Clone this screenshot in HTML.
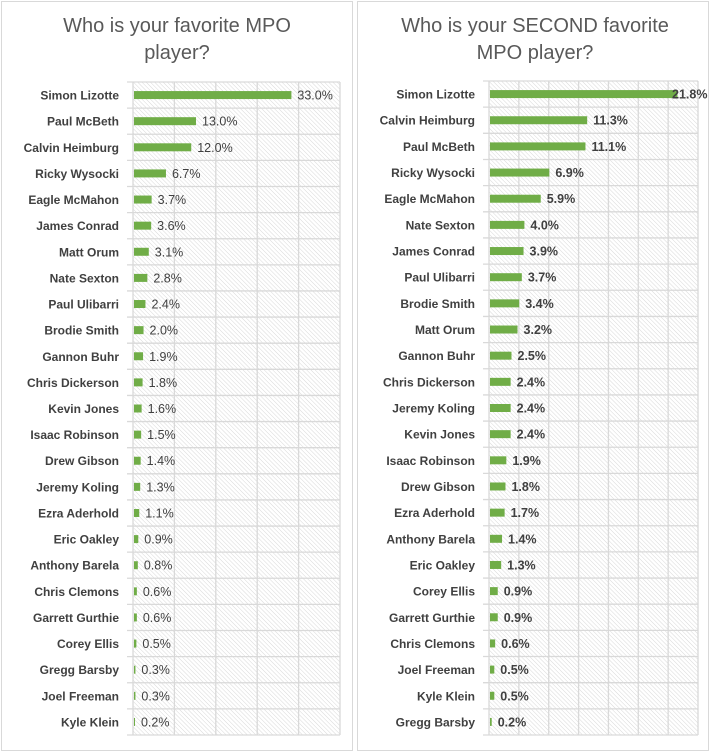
<!DOCTYPE html>
<html><head><meta charset="utf-8"><style>
body{margin:0;background:#fff;}
svg{display:block;font-family:"Liberation Sans",sans-serif;}
</style></head><body>
<svg id="c" width="712" height="753" viewBox="0 0 712 753">
<defs>
<pattern id="hatch" width="3" height="3" patternUnits="userSpaceOnUse" patternTransform="rotate(-45)">
<rect width="3" height="3" fill="#fff"/><line x1="0" y1="0" x2="0" y2="3" stroke="#d8d8d8" stroke-width="1"/>
</pattern>
</defs>
</svg>
<script>
const leftNames=["Simon Lizotte","Paul McBeth","Calvin Heimburg","Ricky Wysocki","Eagle McMahon","James Conrad","Matt Orum","Nate Sexton","Paul Ulibarri","Brodie Smith","Gannon Buhr","Chris Dickerson","Kevin Jones","Isaac Robinson","Drew Gibson","Jeremy Koling","Ezra Aderhold","Eric Oakley","Anthony Barela","Chris Clemons","Garrett Gurthie","Corey Ellis","Gregg Barsby","Joel Freeman","Kyle Klein"];
const leftValues=[33.0,13.0,12.0,6.7,3.7,3.6,3.1,2.8,2.4,2.0,1.9,1.8,1.6,1.5,1.4,1.3,1.1,0.9,0.8,0.6,0.6,0.5,0.3,0.3,0.2];
const rightNames=["Simon Lizotte","Calvin Heimburg","Paul McBeth","Ricky Wysocki","Eagle McMahon","Nate Sexton","James Conrad","Paul Ulibarri","Brodie Smith","Matt Orum","Gannon Buhr","Chris Dickerson","Jeremy Koling","Kevin Jones","Isaac Robinson","Drew Gibson","Ezra Aderhold","Anthony Barela","Eric Oakley","Corey Ellis","Garrett Gurthie","Chris Clemons","Joel Freeman","Kyle Klein","Gregg Barsby"];
const rightValues=[21.8,11.3,11.1,6.9,5.9,4.0,3.9,3.7,3.4,3.2,2.5,2.4,2.4,2.4,1.9,1.8,1.7,1.4,1.3,0.9,0.9,0.6,0.5,0.5,0.2];

const svg=document.getElementById('c');
const NS='http://www.w3.org/2000/svg';
function mk(tag,attrs,parent){const e=document.createElementNS(NS,tag);for(const k in attrs)e.setAttribute(k,attrs[k]);(parent||svg).appendChild(e);return e;}

function panel(cfg){
  const g=mk('g',{});
  
  
  const fr=mk('rect',{x:cfg.fx,y:1.5,width:cfg.fw,height:749,fill:'#fff',stroke:'#d9d9d9','stroke-width':1},g);
  
  
  cfg.title.forEach((t,i)=>{
    const tx=mk('text',{x:cfg.tcx,y:32+i*27,'text-anchor':'middle','font-size':20,fill:'#595959'},g);
    tx.textContent=t;
    
    
  });
  const n=cfg.names.length, rowH=(cfg.bottom-cfg.top)/n;
  const pa=mk('rect',{x:cfg.x0,y:cfg.top,width:cfg.x1-cfg.x0,height:cfg.bottom-cfg.top,fill:'url(#hatch)'},g);
  
  
  const xs=v=>cfg.x0+v*cfg.ppp;
  for(let k=0;k<=cfg.cols;k++){
    const x=cfg.x0+(cfg.x1-cfg.x0)*k/cfg.cols;
    const l=mk('line',{x1:x,y1:cfg.top,x2:x,y2:cfg.bottom,stroke:'#d9d9d9','stroke-width':1.3},g);
    
    
  }
  for(let i=0;i<=n;i++){
    const y=cfg.top+i*rowH;
    const l=mk('line',{x1:cfg.x0-6,y1:y,x2:cfg.x1,y2:y,stroke:'#d9d9d9','stroke-width':1.3},g);
    
    
  }
  cfg.names.forEach((nm,i)=>{
    const cy=cfg.top+(i+0.5)*rowH, v=cfg.values[i];
    const lab=mk('text',{x:cfg.lx,y:cy+4.5,'text-anchor':'end','font-size':12,'font-weight':'bold',fill:'#404040'},g);
    lab.textContent=nm;
    
    
    const b=mk('rect',{x:cfg.x0+1,y:cy-4,width:Math.max(1,xs(v)-cfg.x0),height:8,fill:'#70ad47'},g);
    
    
    const lx=Math.min(xs(v)+7,cfg.maxLabelX);
    const vl=mk('text',{x:lx,y:cy+4.5,'font-size':12.5,'font-weight':cfg.bold?'bold':'normal',fill:'#404040'},g);
    vl.textContent=v.toFixed(1)+'%';
    
    
  });
}
panel({name:'favorite-chart',fx:1.5,fw:351,tcx:177,title:['Who is your favorite MPO','player?'],names:leftNames,values:leftValues,x0:133,x1:340,cols:5,top:82,bottom:735,ppp:4.77,lx:119,bold:false,maxLabelX:300});
panel({name:'second-favorite-chart',fx:357.5,fw:351,tcx:535,title:['Who is your SECOND favorite','MPO player?'],names:rightNames,values:rightValues,x0:489,x1:698,cols:7,top:81,bottom:735,ppp:8.6,lx:475,bold:true,maxLabelX:672});
</script>
</body></html>
